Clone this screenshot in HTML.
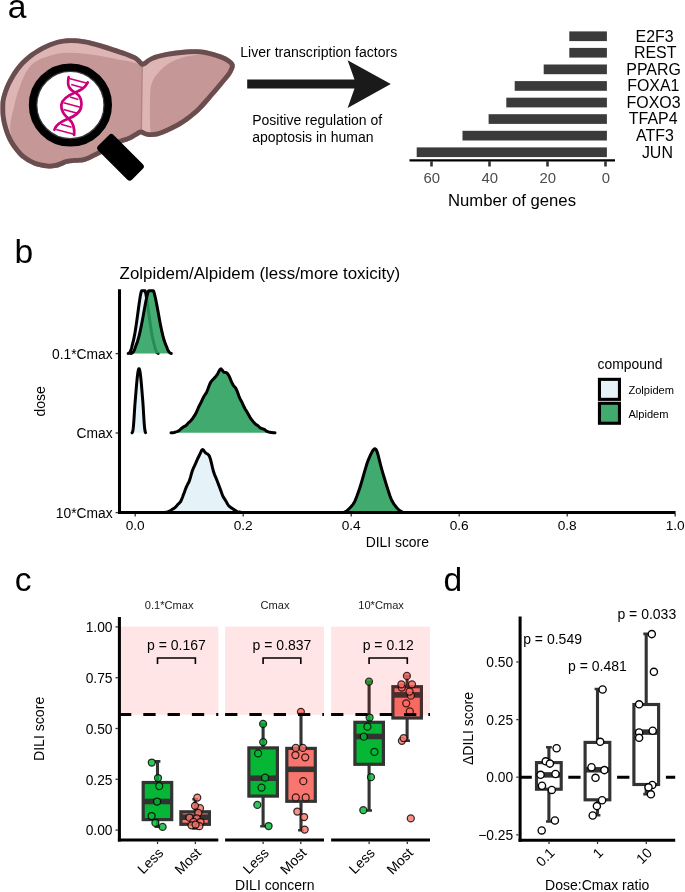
<!DOCTYPE html>
<html><head><meta charset="utf-8"><title>Figure</title>
<style>
html,body{margin:0;padding:0;background:#fff;}
body{width:685px;height:892px;overflow:hidden;}
svg{display:block;will-change:transform;}
text{font-family:"Liberation Sans",sans-serif;fill:#000;}
.t14{font-size:14px}.t13{font-size:13px}.t11{font-size:11px}
.pl{font-size:33.6px}
.ax{fill:#333}
</style></head><body>
<svg width="685" height="892" viewBox="0 0 685 892">
<rect width="685" height="892" fill="#fff"/>

<text class="pl" x="7.8" y="18.4">a</text>
<text class="pl" x="14.6" y="263.2">b</text>
<text class="pl" x="14.7" y="591.3">c</text>
<text class="pl" x="443.5" y="591.2">d</text>
<defs><clipPath id="clv"><path d="M142.8,61.8 C144.2,60.9 147.1,58.0 151.0,56.4 C154.9,54.8 160.7,53.2 166.5,52.1 C172.3,51.0 180.0,50.0 185.8,49.6 C191.6,49.2 196.1,49.0 201.3,49.6 C206.5,50.2 212.4,51.8 217.0,53.2 C221.6,54.6 225.9,56.3 228.8,58.2 C231.7,60.1 234.1,62.0 234.6,64.6 C235.1,67.2 234.0,70.0 231.9,73.6 C229.8,77.2 225.5,81.9 221.9,86.3 C218.3,90.7 214.2,95.4 210.4,99.7 C206.6,104.0 203.1,108.4 198.9,112.3 C194.7,116.2 190.2,119.7 185.3,122.9 C180.5,126.1 174.4,129.4 169.8,131.6 C165.2,133.8 161.8,135.3 158.0,136.2 C154.2,137.1 150.2,137.1 147.3,136.8 C144.4,136.5 141.9,134.6 140.8,134.2 C139.0,135.2 133.4,138.8 130.2,140.3 C127.0,141.8 124.4,142.1 121.4,143.4 C118.4,144.8 115.5,146.6 112.0,148.4 C108.5,150.2 104.7,152.4 100.6,154.5 C96.5,156.6 90.7,159.7 87.3,161.0 C83.9,162.3 82.1,162.3 80.0,162.6 C77.9,162.9 76.5,162.6 74.8,162.7 C73.1,162.8 71.5,163.0 70.0,163.2 C68.5,163.4 66.7,163.8 66.0,163.9 C65.5,164.2 64.8,164.8 63.1,165.4 C61.5,166.1 58.8,167.3 56.1,167.8 C53.4,168.3 50.4,168.7 46.7,168.3 C43.0,167.9 37.8,166.9 33.9,165.4 C30.0,163.9 26.5,161.9 23.4,159.6 C20.3,157.3 17.7,154.5 15.2,151.4 C12.7,148.3 10.1,144.6 8.2,140.9 C6.2,137.2 4.7,133.1 3.5,129.2 C2.3,125.3 1.4,121.0 0.9,117.5 C0.4,114.0 0.4,111.2 0.4,108.0 C0.5,104.8 0.2,102.2 1.2,98.0 C2.2,93.8 4.1,88.1 6.4,83.1 C8.8,78.1 11.8,72.6 15.3,68.0 C18.8,63.4 22.9,59.2 27.3,55.6 C31.7,52.0 36.9,48.7 41.8,46.1 C46.7,43.5 52.2,41.2 56.9,39.9 C61.6,38.6 65.5,38.3 70.2,38.2 C75.0,38.1 80.3,38.6 85.4,39.5 C90.5,40.4 95.8,41.9 100.6,43.3 C105.3,44.6 109.5,46.1 113.9,47.6 C118.3,49.1 123.2,50.6 127.0,52.0 C130.8,53.4 133.9,54.4 136.5,56.0 C139.1,57.6 141.8,60.8 142.8,61.8 Z"/></clipPath></defs>
<g clip-path="url(#clv)">
<rect x="0" y="30" width="240" height="150" fill="#deb5b5"/>
<path d="M-6,142 L11.1,133.9 C8.8,128 11.3,116 14.3,105.9 C16,98 17.3,92.5 19.8,86.9 C22,80 24.8,73.5 28.8,68 C33.5,62 40,58.8 47.4,56.6 C54,54.2 60,53 66.4,52.8 C73,52.6 79,53 85.4,53.7 C95,54.8 105,56.6 113.9,58.5 C120,59.8 125,60.6 130,61.6 C135,62.8 139,64.4 142.2,66.2 L142.2,190 L-6,190 Z" fill="#c59797"/>
<path d="M151.2,140 C150,128 149.6,116 149.9,105.9 C150,98 150,92 150.8,86.9 C152,81 154,77.5 157.4,73.7 C161,69.5 165.5,65.5 170.7,62.3 C175.5,59.8 180.5,58 185.9,56.6 C190,55.6 194,55 197.3,54.7 C205,53 215,51 225,50 L245,50 L245,140 Z" fill="#c59797"/>
<path d="M142.3,62 L141.2,134" stroke="#b08484" stroke-width="1.3" fill="none"/>
<path d="M142.8,61.8 C144.2,60.9 147.1,58.0 151.0,56.4 C154.9,54.8 160.7,53.2 166.5,52.1 C172.3,51.0 180.0,50.0 185.8,49.6 C191.6,49.2 196.1,49.0 201.3,49.6 C206.5,50.2 212.4,51.8 217.0,53.2 C221.6,54.6 225.9,56.3 228.8,58.2 C231.7,60.1 234.1,62.0 234.6,64.6 C235.1,67.2 234.0,70.0 231.9,73.6 C229.8,77.2 225.5,81.9 221.9,86.3 C218.3,90.7 214.2,95.4 210.4,99.7 C206.6,104.0 203.1,108.4 198.9,112.3 C194.7,116.2 190.2,119.7 185.3,122.9 C180.5,126.1 174.4,129.4 169.8,131.6 C165.2,133.8 161.8,135.3 158.0,136.2 C154.2,137.1 150.2,137.1 147.3,136.8 C144.4,136.5 141.9,134.6 140.8,134.2 C139.0,135.2 133.4,138.8 130.2,140.3 C127.0,141.8 124.4,142.1 121.4,143.4 C118.4,144.8 115.5,146.6 112.0,148.4 C108.5,150.2 104.7,152.4 100.6,154.5 C96.5,156.6 90.7,159.7 87.3,161.0 C83.9,162.3 82.1,162.3 80.0,162.6 C77.9,162.9 76.5,162.6 74.8,162.7 C73.1,162.8 71.5,163.0 70.0,163.2 C68.5,163.4 66.7,163.8 66.0,163.9 C65.5,164.2 64.8,164.8 63.1,165.4 C61.5,166.1 58.8,167.3 56.1,167.8 C53.4,168.3 50.4,168.7 46.7,168.3 C43.0,167.9 37.8,166.9 33.9,165.4 C30.0,163.9 26.5,161.9 23.4,159.6 C20.3,157.3 17.7,154.5 15.2,151.4 C12.7,148.3 10.1,144.6 8.2,140.9 C6.2,137.2 4.7,133.1 3.5,129.2 C2.3,125.3 1.4,121.0 0.9,117.5 C0.4,114.0 0.4,111.2 0.4,108.0 C0.5,104.8 0.2,102.2 1.2,98.0 C2.2,93.8 4.1,88.1 6.4,83.1 C8.8,78.1 11.8,72.6 15.3,68.0 C18.8,63.4 22.9,59.2 27.3,55.6 C31.7,52.0 36.9,48.7 41.8,46.1 C46.7,43.5 52.2,41.2 56.9,39.9 C61.6,38.6 65.5,38.3 70.2,38.2 C75.0,38.1 80.3,38.6 85.4,39.5 C90.5,40.4 95.8,41.9 100.6,43.3 C105.3,44.6 109.5,46.1 113.9,47.6 C118.3,49.1 123.2,50.6 127.0,52.0 C130.8,53.4 133.9,54.4 136.5,56.0 C139.1,57.6 141.8,60.8 142.8,61.8 Z" fill="none" stroke="#6a4e4f" stroke-width="9.6" stroke-linejoin="round"/>
</g>
<g transform="translate(120.3,157.1) rotate(45)"><rect x="-23.6" y="-10.9" width="47.8" height="21.8" rx="3.2" fill="#000"/></g>
<circle cx="70.4" cy="105" r="33.8" fill="#fff"/>
<circle cx="70.4" cy="105" r="37.6" fill="none" stroke="#000" stroke-width="8"/>
<circle cx="70.4" cy="105" r="33.6" fill="none" stroke="#3a3a3a" stroke-width="1.2"/>
<g fill="none" stroke="#cc0078" stroke-linecap="round">
<path d="M68.6,77.2 C67,86 69,89 75.1,92.6 C82,96 82,104 81,108 C79.5,113 75,116 68.5,118.6 C60,122 56,125 54.4,129.6" stroke-width="2.7"/>
<path d="M87.8,82.4 C85,88 81,90 75.1,92.6 C68,95.5 62,99 61.3,105 C61,111 64,115 68.5,118.6 C72,121.5 74.8,127 74.2,135" stroke-width="2.7"/>
<g stroke-width="1.6" stroke-linecap="butt">
<path d="M69.2,78.4 L87.2,83.2"/>
<path d="M71.2,84.6 L83.8,87.9"/>
<path d="M70,96.9 L78.4,99.4"/>
<path d="M63.6,102.8 L81.2,107.5"/>
<path d="M63.6,109.6 L78.2,113.5"/>
<path d="M61,124.3 L71.6,127.2"/>
<path d="M56.2,129.6 L74,134.3"/>
</g></g>
<text x="240.3" y="56.8" style="font-size:14.05px">Liver transcription factors</text>
<text x="252.2" y="124.8" style="font-size:14px">Positive regulation of</text>
<text x="252.2" y="141.8" style="font-size:14px">apoptosis in human</text>
<path d="M247.2,79.6 L354.5,79.6 L347.6,60.2 L390.8,84 L347.6,107.9 L354.5,88.4 L247.2,88.4 Z" fill="#1a1a1a"/>
<rect x="569.3" y="31.4" width="37.6" height="9.7" fill="#3b3b3b"/>
<text transform="translate(654.6,41.6) scale(1.01,1)" text-anchor="middle" style="font-size:15.8px">E2F3</text>
<rect x="569.3" y="47.9" width="37.6" height="9.7" fill="#3b3b3b"/>
<text transform="translate(655.2,58.2) scale(1.01,1)" text-anchor="middle" style="font-size:15.8px">REST</text>
<rect x="543.7" y="64.5" width="63.2" height="9.7" fill="#3b3b3b"/>
<text transform="translate(653.6,74.7) scale(1.01,1)" text-anchor="middle" style="font-size:15.8px">PPARG</text>
<rect x="514.7" y="81.1" width="92.2" height="9.7" fill="#3b3b3b"/>
<text transform="translate(653.3,91.2) scale(1.01,1)" text-anchor="middle" style="font-size:15.8px">FOXA1</text>
<rect x="506.3" y="97.7" width="100.6" height="9.7" fill="#3b3b3b"/>
<text transform="translate(653.6,107.8) scale(1.01,1)" text-anchor="middle" style="font-size:15.8px">FOXO3</text>
<rect x="488.6" y="114.2" width="118.3" height="9.7" fill="#3b3b3b"/>
<text transform="translate(653.2,124.3) scale(1.01,1)" text-anchor="middle" style="font-size:15.8px">TFAP4</text>
<rect x="462.5" y="130.8" width="144.4" height="9.7" fill="#3b3b3b"/>
<text transform="translate(655.0,140.9) scale(1.01,1)" text-anchor="middle" style="font-size:15.8px">ATF3</text>
<rect x="416.7" y="147.4" width="190.2" height="9.7" fill="#3b3b3b"/>
<text transform="translate(657.4,157.5) scale(1.01,1)" text-anchor="middle" style="font-size:15.8px">JUN</text>
<path d="M409.5,160.3 L615,160.3" stroke="#000" stroke-width="2.2"/>
<path d="M605.5,161.2 L605.5,166.5" stroke="#333" stroke-width="2.6"/>
<text x="605.8" y="183.2" text-anchor="middle" style="font-size:14.9px;fill:#4d4d4d">0</text>
<path d="M547.5,161.2 L547.5,166.5" stroke="#333" stroke-width="2.6"/>
<text x="547.8" y="183.2" text-anchor="middle" style="font-size:14.9px;fill:#4d4d4d">20</text>
<path d="M489.5,161.2 L489.5,166.5" stroke="#333" stroke-width="2.6"/>
<text x="489.8" y="183.2" text-anchor="middle" style="font-size:14.9px;fill:#4d4d4d">40</text>
<path d="M431.5,161.2 L431.5,166.5" stroke="#333" stroke-width="2.6"/>
<text x="431.8" y="183.2" text-anchor="middle" style="font-size:14.9px;fill:#4d4d4d">60</text>
<text x="512" y="206.2" text-anchor="middle" style="font-size:16.7px">Number of genes</text>
<text x="119.6" y="278.6" style="font-size:16.9px">Zolpidem/Alpidem (less/more toxicity)</text>
<path d="M128.2,353.4 L128.7,353.3 L129.2,353.1 L129.7,352.6 L130.2,351.9 L130.7,350.7 L131.2,349.2 L131.7,347.4 L132.2,345.3 L132.7,343.4 L133.2,341.5 L133.7,339.3 L134.2,336.9 L134.7,334.3 L135.2,331.4 L135.7,328.2 L136.2,324.9 L136.7,321.5 L137.2,317.9 L137.7,314.2 L138.2,310.5 L138.7,306.8 L139.2,303.3 L139.7,299.9 L140.2,296.8 L140.7,294.1 L141.2,291.7 L141.7,290.7 L142.2,290.7 L142.7,290.7 L143.2,290.7 L143.7,290.7 L144.2,290.7 L144.7,290.7 L145.2,290.8 L145.7,293.0 L146.2,295.7 L146.7,298.7 L147.2,301.9 L147.7,305.4 L148.2,309.0 L148.7,312.7 L149.2,316.4 L149.7,320.0 L150.2,323.6 L150.7,326.9 L151.2,330.1 L151.7,333.1 L152.2,335.9 L152.7,338.4 L153.2,340.6 L153.7,342.6 L154.2,344.4 L154.7,346.3 L155.2,348.2 L155.7,349.8 L156.2,351.2 L156.7,352.2 L157.2,352.8 L157.7,353.2 L158.2,353.4 L158.2,353.4 L128.2,353.4 Z" fill="#e5f3f8"/>
<path d="M128.2,353.4 L128.7,353.3 L129.2,353.1 L129.7,352.6 L130.2,351.9 L130.7,350.7 L131.2,349.2 L131.7,347.4 L132.2,345.3 L132.7,343.4 L133.2,341.5 L133.7,339.3 L134.2,336.9 L134.7,334.3 L135.2,331.4 L135.7,328.2 L136.2,324.9 L136.7,321.5 L137.2,317.9 L137.7,314.2 L138.2,310.5 L138.7,306.8 L139.2,303.3 L139.7,299.9 L140.2,296.8 L140.7,294.1 L141.2,291.7 L141.7,290.7 L142.2,290.7 L142.7,290.7 L143.2,290.7 L143.7,290.7 L144.2,290.7 L144.7,290.7 L145.2,290.8 L145.7,293.0 L146.2,295.7 L146.7,298.7 L147.2,301.9 L147.7,305.4 L148.2,309.0 L148.7,312.7 L149.2,316.4 L149.7,320.0 L150.2,323.6 L150.7,326.9 L151.2,330.1 L151.7,333.1 L152.2,335.9 L152.7,338.4 L153.2,340.6 L153.7,342.6 L154.2,344.4 L154.7,346.3 L155.2,348.2 L155.7,349.8 L156.2,351.2 L156.7,352.2 L157.2,352.8 L157.7,353.2 L158.2,353.4" fill="none" stroke="#000" stroke-width="3.0" stroke-linejoin="round" stroke-linecap="round"/>
<path d="M130.8,353.4 L131.3,353.4 L131.8,353.2 L132.3,352.9 L132.8,352.5 L133.3,351.9 L133.8,351.0 L134.3,350.0 L134.8,348.8 L135.3,347.4 L135.8,346.0 L136.3,344.6 L136.8,343.4 L137.3,342.0 L137.8,340.4 L138.3,338.8 L138.8,336.9 L139.3,335.0 L139.8,332.9 L140.3,330.7 L140.8,328.3 L141.3,325.9 L141.8,323.3 L142.3,320.7 L142.8,318.0 L143.3,315.3 L143.8,312.5 L144.3,309.8 L144.8,307.0 L145.3,304.4 L145.8,301.8 L146.3,299.3 L146.8,297.0 L147.3,294.9 L147.8,293.0 L148.3,291.3 L148.8,290.7 L149.3,290.7 L149.8,290.7 L150.3,290.7 L150.8,290.7 L151.3,290.7 L151.8,290.7 L152.3,290.7 L152.8,290.7 L153.3,290.7 L153.8,291.6 L154.3,293.4 L154.8,295.3 L155.3,297.5 L155.8,299.8 L156.3,302.3 L156.8,304.9 L157.3,307.6 L157.8,310.3 L158.3,313.1 L158.8,315.8 L159.3,318.6 L159.8,321.2 L160.3,323.9 L160.8,326.4 L161.3,328.8 L161.8,331.1 L162.3,333.3 L162.8,335.4 L163.3,337.3 L163.8,339.1 L164.3,340.8 L164.8,342.3 L165.3,343.6 L165.8,344.9 L166.3,346.0 L166.8,347.3 L167.3,348.6 L167.8,349.8 L168.3,350.8 L168.8,351.7 L169.3,352.3 L169.8,352.8 L170.3,353.1 L170.8,353.3 L171.3,353.4 L171.3,353.4 L130.8,353.4 Z" fill="rgba(44,162,95,0.88)"/>
<path d="M130.8,353.4 L131.3,353.4 L131.8,353.2 L132.3,352.9 L132.8,352.5 L133.3,351.9 L133.8,351.0 L134.3,350.0 L134.8,348.8 L135.3,347.4 L135.8,346.0 L136.3,344.6 L136.8,343.4 L137.3,342.0 L137.8,340.4 L138.3,338.8 L138.8,336.9 L139.3,335.0 L139.8,332.9 L140.3,330.7 L140.8,328.3 L141.3,325.9 L141.8,323.3 L142.3,320.7 L142.8,318.0 L143.3,315.3 L143.8,312.5 L144.3,309.8 L144.8,307.0 L145.3,304.4 L145.8,301.8 L146.3,299.3 L146.8,297.0 L147.3,294.9 L147.8,293.0 L148.3,291.3 L148.8,290.7 L149.3,290.7 L149.8,290.7 L150.3,290.7 L150.8,290.7 L151.3,290.7 L151.8,290.7 L152.3,290.7 L152.8,290.7 L153.3,290.7 L153.8,291.6 L154.3,293.4 L154.8,295.3 L155.3,297.5 L155.8,299.8 L156.3,302.3 L156.8,304.9 L157.3,307.6 L157.8,310.3 L158.3,313.1 L158.8,315.8 L159.3,318.6 L159.8,321.2 L160.3,323.9 L160.8,326.4 L161.3,328.8 L161.8,331.1 L162.3,333.3 L162.8,335.4 L163.3,337.3 L163.8,339.1 L164.3,340.8 L164.8,342.3 L165.3,343.6 L165.8,344.9 L166.3,346.0 L166.8,347.3 L167.3,348.6 L167.8,349.8 L168.3,350.8 L168.8,351.7 L169.3,352.3 L169.8,352.8 L170.3,353.1 L170.8,353.3 L171.3,353.4" fill="none" stroke="#000" stroke-width="3.0" stroke-linejoin="round" stroke-linecap="round"/>
<path d="M132.0,432.8 L132.4,432.4 L132.8,431.1 L133.2,428.4 L133.6,424.3 L134.0,418.8 L134.4,412.3 L134.8,406.0 L135.2,401.1 L135.6,396.3 L136.0,391.4 L136.4,386.6 L136.8,382.1 L137.2,378.0 L137.6,374.5 L138.0,371.7 L138.4,369.7 L138.8,368.7 L139.2,368.7 L139.6,369.7 L140.0,371.7 L140.4,374.5 L140.8,378.0 L141.2,382.1 L141.6,386.6 L142.0,391.4 L142.4,396.3 L142.8,401.1 L143.2,407.0 L143.6,414.0 L144.0,420.5 L144.4,425.8 L144.8,429.6 L145.2,431.8 L145.6,432.7 L145.6,432.8 L132.0,432.8 Z" fill="#e5f3f8"/>
<path d="M132.0,432.8 L132.4,432.4 L132.8,431.1 L133.2,428.4 L133.6,424.3 L134.0,418.8 L134.4,412.3 L134.8,406.0 L135.2,401.1 L135.6,396.3 L136.0,391.4 L136.4,386.6 L136.8,382.1 L137.2,378.0 L137.6,374.5 L138.0,371.7 L138.4,369.7 L138.8,368.7 L139.2,368.7 L139.6,369.7 L140.0,371.7 L140.4,374.5 L140.8,378.0 L141.2,382.1 L141.6,386.6 L142.0,391.4 L142.4,396.3 L142.8,401.1 L143.2,407.0 L143.6,414.0 L144.0,420.5 L144.4,425.8 L144.8,429.6 L145.2,431.8 L145.6,432.7" fill="none" stroke="#000" stroke-width="3.0" stroke-linejoin="round" stroke-linecap="round"/>
<path d="M171.0,432.8 L172.0,432.8 L173.0,432.7 L174.0,432.5 L175.0,432.2 L176.0,431.9 L177.0,431.6 L178.0,431.2 L179.0,430.6 L180.0,429.8 L181.0,428.8 L182.0,427.9 L183.0,427.2 L184.0,426.7 L185.0,426.2 L186.0,425.5 L187.0,424.4 L188.0,423.3 L189.0,422.3 L190.0,421.5 L191.0,420.5 L192.0,419.3 L193.0,417.9 L194.0,416.4 L195.0,414.9 L196.0,413.1 L197.0,410.8 L198.0,408.5 L199.0,406.3 L200.0,404.4 L201.0,402.5 L202.0,400.4 L203.0,398.2 L204.0,396.3 L205.0,394.7 L206.0,393.3 L207.0,391.3 L208.0,388.8 L209.0,386.0 L210.0,383.6 L211.0,381.8 L212.0,380.6 L213.0,379.5 L214.0,378.4 L215.0,377.4 L216.0,376.2 L217.0,374.9 L218.0,373.2 L219.0,371.2 L220.0,369.5 L221.0,368.9 L222.0,369.8 L223.0,371.2 L224.0,372.2 L225.0,372.4 L226.0,372.5 L227.0,373.1 L228.0,374.2 L229.0,375.9 L230.0,378.1 L231.0,380.6 L232.0,382.9 L233.0,384.8 L234.0,386.2 L235.0,387.2 L236.0,388.6 L237.0,390.8 L238.0,393.5 L239.0,396.3 L240.0,398.6 L241.0,400.5 L242.0,402.4 L243.0,404.6 L244.0,406.8 L245.0,408.7 L246.0,410.4 L247.0,411.9 L248.0,413.7 L249.0,415.5 L250.0,417.3 L251.0,418.8 L252.0,420.1 L253.0,421.4 L254.0,422.6 L255.0,423.7 L256.0,424.5 L257.0,425.1 L258.0,425.8 L259.0,426.8 L260.0,427.7 L261.0,428.3 L262.0,428.6 L263.0,428.9 L264.0,429.3 L265.0,429.9 L266.0,430.7 L267.0,431.4 L268.0,431.8 L269.0,432.1 L270.0,432.3 L271.0,432.5 L272.0,432.6 L273.0,432.7 L274.0,432.8 L275.0,432.8 L275.0,432.8 L171.0,432.8 Z" fill="#41aa6e"/>
<path d="M171.0,432.8 L172.0,432.8 L173.0,432.7 L174.0,432.5 L175.0,432.2 L176.0,431.9 L177.0,431.6 L178.0,431.2 L179.0,430.6 L180.0,429.8 L181.0,428.8 L182.0,427.9 L183.0,427.2 L184.0,426.7 L185.0,426.2 L186.0,425.5 L187.0,424.4 L188.0,423.3 L189.0,422.3 L190.0,421.5 L191.0,420.5 L192.0,419.3 L193.0,417.9 L194.0,416.4 L195.0,414.9 L196.0,413.1 L197.0,410.8 L198.0,408.5 L199.0,406.3 L200.0,404.4 L201.0,402.5 L202.0,400.4 L203.0,398.2 L204.0,396.3 L205.0,394.7 L206.0,393.3 L207.0,391.3 L208.0,388.8 L209.0,386.0 L210.0,383.6 L211.0,381.8 L212.0,380.6 L213.0,379.5 L214.0,378.4 L215.0,377.4 L216.0,376.2 L217.0,374.9 L218.0,373.2 L219.0,371.2 L220.0,369.5 L221.0,368.9 L222.0,369.8 L223.0,371.2 L224.0,372.2 L225.0,372.4 L226.0,372.5 L227.0,373.1 L228.0,374.2 L229.0,375.9 L230.0,378.1 L231.0,380.6 L232.0,382.9 L233.0,384.8 L234.0,386.2 L235.0,387.2 L236.0,388.6 L237.0,390.8 L238.0,393.5 L239.0,396.3 L240.0,398.6 L241.0,400.5 L242.0,402.4 L243.0,404.6 L244.0,406.8 L245.0,408.7 L246.0,410.4 L247.0,411.9 L248.0,413.7 L249.0,415.5 L250.0,417.3 L251.0,418.8 L252.0,420.1 L253.0,421.4 L254.0,422.6 L255.0,423.7 L256.0,424.5 L257.0,425.1 L258.0,425.8 L259.0,426.8 L260.0,427.7 L261.0,428.3 L262.0,428.6 L263.0,428.9 L264.0,429.3 L265.0,429.9 L266.0,430.7 L267.0,431.4 L268.0,431.8 L269.0,432.1 L270.0,432.3 L271.0,432.5 L272.0,432.6 L273.0,432.7 L274.0,432.8 L275.0,432.8" fill="none" stroke="#000" stroke-width="3.0" stroke-linejoin="round" stroke-linecap="round"/>
<path d="M163.5,512.4 L164.5,512.4 L165.5,512.3 L166.5,512.2 L167.5,512.0 L168.5,511.6 L169.5,511.2 L170.5,510.6 L171.5,509.9 L172.5,509.1 L173.5,508.6 L174.5,508.0 L175.5,507.2 L176.5,506.1 L177.5,504.8 L178.5,503.8 L179.5,502.9 L180.5,501.7 L181.5,499.8 L182.5,497.3 L183.5,494.6 L184.5,491.9 L185.5,489.1 L186.5,486.7 L187.5,484.6 L188.5,482.8 L189.5,480.4 L190.5,477.2 L191.5,473.5 L192.5,470.3 L193.5,467.9 L194.5,465.9 L195.5,463.7 L196.5,461.3 L197.5,459.0 L198.5,457.0 L199.5,455.0 L200.5,452.8 L201.5,450.6 L202.5,449.5 L203.5,450.1 L204.5,451.6 L205.5,452.8 L206.5,453.5 L207.5,454.0 L208.5,454.8 L209.5,456.4 L210.5,459.3 L211.5,463.3 L212.5,467.7 L213.5,471.6 L214.5,474.5 L215.5,476.9 L216.5,479.2 L217.5,481.7 L218.5,484.4 L219.5,487.0 L220.5,489.7 L221.5,492.6 L222.5,495.3 L223.5,497.4 L224.5,498.9 L225.5,500.4 L226.5,502.1 L227.5,504.0 L228.5,505.5 L229.5,506.5 L230.5,507.2 L231.5,507.9 L232.5,508.6 L233.5,509.2 L234.5,509.9 L235.5,510.6 L236.5,511.3 L237.5,511.7 L238.5,511.9 L239.5,512.0 L240.5,512.2 L241.5,512.4 L242.5,512.4 L242.5,512.4 L163.5,512.4 Z" fill="#e5f3f8"/>
<path d="M163.5,512.4 L164.5,512.4 L165.5,512.3 L166.5,512.2 L167.5,512.0 L168.5,511.6 L169.5,511.2 L170.5,510.6 L171.5,509.9 L172.5,509.1 L173.5,508.6 L174.5,508.0 L175.5,507.2 L176.5,506.1 L177.5,504.8 L178.5,503.8 L179.5,502.9 L180.5,501.7 L181.5,499.8 L182.5,497.3 L183.5,494.6 L184.5,491.9 L185.5,489.1 L186.5,486.7 L187.5,484.6 L188.5,482.8 L189.5,480.4 L190.5,477.2 L191.5,473.5 L192.5,470.3 L193.5,467.9 L194.5,465.9 L195.5,463.7 L196.5,461.3 L197.5,459.0 L198.5,457.0 L199.5,455.0 L200.5,452.8 L201.5,450.6 L202.5,449.5 L203.5,450.1 L204.5,451.6 L205.5,452.8 L206.5,453.5 L207.5,454.0 L208.5,454.8 L209.5,456.4 L210.5,459.3 L211.5,463.3 L212.5,467.7 L213.5,471.6 L214.5,474.5 L215.5,476.9 L216.5,479.2 L217.5,481.7 L218.5,484.4 L219.5,487.0 L220.5,489.7 L221.5,492.6 L222.5,495.3 L223.5,497.4 L224.5,498.9 L225.5,500.4 L226.5,502.1 L227.5,504.0 L228.5,505.5 L229.5,506.5 L230.5,507.2 L231.5,507.9 L232.5,508.6 L233.5,509.2 L234.5,509.9 L235.5,510.6 L236.5,511.3 L237.5,511.7 L238.5,511.9 L239.5,512.0 L240.5,512.2 L241.5,512.4 L242.5,512.4" fill="none" stroke="#000" stroke-width="3.0" stroke-linejoin="round" stroke-linecap="round"/>
<path d="M342.0,512.4 L343.0,512.4 L344.0,512.2 L345.0,511.9 L346.0,511.4 L347.0,510.7 L348.0,509.7 L349.0,508.7 L350.0,507.7 L351.0,506.7 L352.0,505.6 L353.0,504.4 L354.0,502.8 L355.0,500.8 L356.0,498.4 L357.0,495.8 L358.0,493.0 L359.0,490.2 L360.0,487.2 L361.0,484.0 L362.0,480.6 L363.0,477.2 L364.0,473.7 L365.0,470.2 L366.0,466.8 L367.0,463.5 L368.0,460.7 L369.0,458.3 L370.0,456.0 L371.0,453.9 L372.0,452.0 L373.0,450.3 L374.0,449.1 L375.0,448.7 L376.0,449.4 L377.0,451.5 L378.0,454.7 L379.0,458.6 L380.0,462.7 L381.0,466.6 L382.0,470.2 L383.0,473.6 L384.0,477.0 L385.0,480.3 L386.0,483.6 L387.0,486.8 L388.0,489.9 L389.0,493.0 L390.0,496.0 L391.0,498.6 L392.0,500.8 L393.0,502.6 L394.0,504.1 L395.0,505.5 L396.0,506.8 L397.0,508.0 L398.0,509.0 L399.0,509.9 L400.0,510.7 L401.0,511.4 L402.0,511.9 L403.0,512.2 L404.0,512.4 L405.0,512.4 L405.0,512.4 L342.0,512.4 Z" fill="#41aa6e"/>
<path d="M342.0,512.4 L343.0,512.4 L344.0,512.2 L345.0,511.9 L346.0,511.4 L347.0,510.7 L348.0,509.7 L349.0,508.7 L350.0,507.7 L351.0,506.7 L352.0,505.6 L353.0,504.4 L354.0,502.8 L355.0,500.8 L356.0,498.4 L357.0,495.8 L358.0,493.0 L359.0,490.2 L360.0,487.2 L361.0,484.0 L362.0,480.6 L363.0,477.2 L364.0,473.7 L365.0,470.2 L366.0,466.8 L367.0,463.5 L368.0,460.7 L369.0,458.3 L370.0,456.0 L371.0,453.9 L372.0,452.0 L373.0,450.3 L374.0,449.1 L375.0,448.7 L376.0,449.4 L377.0,451.5 L378.0,454.7 L379.0,458.6 L380.0,462.7 L381.0,466.6 L382.0,470.2 L383.0,473.6 L384.0,477.0 L385.0,480.3 L386.0,483.6 L387.0,486.8 L388.0,489.9 L389.0,493.0 L390.0,496.0 L391.0,498.6 L392.0,500.8 L393.0,502.6 L394.0,504.1 L395.0,505.5 L396.0,506.8 L397.0,508.0 L398.0,509.0 L399.0,509.9 L400.0,510.7 L401.0,511.4 L402.0,511.9 L403.0,512.2 L404.0,512.4 L405.0,512.4" fill="none" stroke="#000" stroke-width="3.0" stroke-linejoin="round" stroke-linecap="round"/>
<path d="M119.5,289.3 L119.5,514.1" stroke="#000" stroke-width="3.05"/>
<path d="M118,512.55 L675.6,512.55" stroke="#000" stroke-width="3.05"/>
<path d="M115.6,353.6 L118.2,353.6" stroke="#333" stroke-width="1.3"/>
<text x="112.6" y="358.7" text-anchor="end" style="font-size:13.8px">0.1*Cmax</text>
<path d="M115.6,433.0 L118.2,433.0" stroke="#333" stroke-width="1.3"/>
<text x="112.6" y="438.1" text-anchor="end" style="font-size:13.8px">Cmax</text>
<path d="M115.6,512.6 L118.2,512.6" stroke="#333" stroke-width="1.3"/>
<text x="112.6" y="517.7" text-anchor="end" style="font-size:13.8px">10*Cmax</text>
<path d="M135.2,514 L135.2,516.4" stroke="#333" stroke-width="1.3"/>
<text x="135.2" y="529.8" text-anchor="middle" style="font-size:13.7px">0.0</text>
<path d="M243.2,514 L243.2,516.4" stroke="#333" stroke-width="1.3"/>
<text x="243.2" y="529.8" text-anchor="middle" style="font-size:13.7px">0.2</text>
<path d="M351.2,514 L351.2,516.4" stroke="#333" stroke-width="1.3"/>
<text x="351.2" y="529.8" text-anchor="middle" style="font-size:13.7px">0.4</text>
<path d="M459.2,514 L459.2,516.4" stroke="#333" stroke-width="1.3"/>
<text x="459.2" y="529.8" text-anchor="middle" style="font-size:13.7px">0.6</text>
<path d="M567.2,514 L567.2,516.4" stroke="#333" stroke-width="1.3"/>
<text x="567.2" y="529.8" text-anchor="middle" style="font-size:13.7px">0.8</text>
<path d="M675.2,514 L675.2,516.4" stroke="#333" stroke-width="1.3"/>
<text x="675.2" y="529.8" text-anchor="middle" style="font-size:13.7px">1.0</text>
<text x="397.3" y="546.7" text-anchor="middle" style="font-size:13.9px">DILI score</text>
<text transform="translate(44.6,401.3) rotate(-90)" text-anchor="middle" style="font-size:14px">dose</text>
<text x="597.6" y="368.6" style="font-size:13.9px">compound</text>
<rect x="599.45" y="379.35" width="20" height="20" fill="#e5f3f8" stroke="#000" stroke-width="3.1"/>
<rect x="599.45" y="403.25" width="20" height="20" fill="#41aa6e" stroke="#000" stroke-width="3.1"/>
<text x="628.4" y="393.7" style="font-size:11.1px">Zolpidem</text>
<text x="628.4" y="417.7" style="font-size:11.1px">Alpidem</text>
<path d="M157.5,761.2 L157.5,782.5 M157.5,819.6 L157.5,827.0" stroke="#333" stroke-width="3.1"/>
<path d="M154.6,761.4 L160.4,761.4 M154.6,826.8 L160.4,826.8" stroke="#333" stroke-width="2.6"/>
<rect x="143.2" y="782.5" width="28.5" height="37.1" fill="#05b734" stroke="#333" stroke-width="3.2"/>
<path d="M143.2,801.5 L171.8,801.5" stroke="#333" stroke-width="5.6"/>
<path d="M195.2,799.0 L195.2,811.8 M195.2,824.3 L195.2,828.6" stroke="#333" stroke-width="3.1"/>
<path d="M192.3,799.2 L198.1,799.2 M192.3,828.4 L198.1,828.4" stroke="#333" stroke-width="2.6"/>
<rect x="180.9" y="811.8" width="28.5" height="12.5" fill="#f8766d" stroke="#333" stroke-width="3.2"/>
<path d="M180.9,817.2 L209.4,817.2" stroke="#333" stroke-width="5.6"/>
<path d="M263.1,723.9 L263.1,747.9 M263.1,796.1 L263.1,826.4" stroke="#333" stroke-width="3.1"/>
<path d="M260.2,724.1 L266.0,724.1 M260.2,826.2 L266.0,826.2" stroke="#333" stroke-width="2.6"/>
<rect x="248.9" y="747.9" width="28.5" height="48.2" fill="#05b734" stroke="#333" stroke-width="3.2"/>
<path d="M248.9,778.2 L277.4,778.2" stroke="#333" stroke-width="5.6"/>
<path d="M301.0,713.4 L301.0,748.4 M301.0,801.3 L301.0,830.4" stroke="#333" stroke-width="3.1"/>
<path d="M298.1,713.6 L303.9,713.6 M298.1,830.2 L303.9,830.2" stroke="#333" stroke-width="2.6"/>
<rect x="286.8" y="748.4" width="28.5" height="52.9" fill="#f8766d" stroke="#333" stroke-width="3.2"/>
<path d="M286.8,769.3 L315.2,769.3" stroke="#333" stroke-width="5.6"/>
<path d="M369.1,681.7 L369.1,722.3 M369.1,764.3 L369.1,810.7" stroke="#333" stroke-width="3.1"/>
<path d="M366.2,681.9 L372.0,681.9 M366.2,810.5 L372.0,810.5" stroke="#333" stroke-width="2.6"/>
<rect x="354.9" y="722.3" width="28.5" height="42.0" fill="#05b734" stroke="#333" stroke-width="3.2"/>
<path d="M354.9,736.5 L383.4,736.5" stroke="#333" stroke-width="5.6"/>
<path d="M407.1,675.8 L407.1,686.7 M407.1,718.0 L407.1,740.9" stroke="#333" stroke-width="3.1"/>
<path d="M404.2,676.0 L410.0,676.0 M404.2,740.7 L410.0,740.7" stroke="#333" stroke-width="2.6"/>
<rect x="392.9" y="686.7" width="28.5" height="31.3" fill="#f8766d" stroke="#333" stroke-width="3.2"/>
<path d="M392.9,694.9 L421.4,694.9" stroke="#333" stroke-width="5.6"/>
<circle cx="151.8" cy="762.5" r="3.5" fill="#05b734" fill-opacity="0.82" stroke="#000" stroke-opacity="0.8" stroke-width="1.25"/>
<circle cx="158.0" cy="778.0" r="3.5" fill="#05b734" fill-opacity="0.82" stroke="#000" stroke-opacity="0.8" stroke-width="1.25"/>
<circle cx="159.2" cy="786.1" r="3.5" fill="#05b734" fill-opacity="0.82" stroke="#000" stroke-opacity="0.8" stroke-width="1.25"/>
<circle cx="157.1" cy="801.5" r="3.5" fill="#05b734" fill-opacity="0.82" stroke="#000" stroke-opacity="0.8" stroke-width="1.25"/>
<circle cx="151.6" cy="816.0" r="3.5" fill="#05b734" fill-opacity="0.82" stroke="#000" stroke-opacity="0.8" stroke-width="1.25"/>
<circle cx="155.4" cy="822.9" r="3.5" fill="#05b734" fill-opacity="0.82" stroke="#000" stroke-opacity="0.8" stroke-width="1.25"/>
<circle cx="162.6" cy="826.9" r="3.5" fill="#05b734" fill-opacity="0.82" stroke="#000" stroke-opacity="0.8" stroke-width="1.25"/>
<circle cx="200.0" cy="808.2" r="3.5" fill="#f8766d" fill-opacity="0.82" stroke="#000" stroke-opacity="0.8" stroke-width="1.25"/>
<circle cx="195.0" cy="805.8" r="3.5" fill="#f8766d" fill-opacity="0.82" stroke="#000" stroke-opacity="0.8" stroke-width="1.25"/>
<circle cx="197.3" cy="797.6" r="3.5" fill="#f8766d" fill-opacity="0.82" stroke="#000" stroke-opacity="0.8" stroke-width="1.25"/>
<circle cx="198.3" cy="812.8" r="3.5" fill="#f8766d" fill-opacity="0.82" stroke="#000" stroke-opacity="0.8" stroke-width="1.25"/>
<circle cx="189.5" cy="817.7" r="3.5" fill="#f8766d" fill-opacity="0.82" stroke="#000" stroke-opacity="0.8" stroke-width="1.25"/>
<circle cx="196.8" cy="818.3" r="3.5" fill="#f8766d" fill-opacity="0.82" stroke="#000" stroke-opacity="0.8" stroke-width="1.25"/>
<circle cx="193.5" cy="821.8" r="3.5" fill="#f8766d" fill-opacity="0.82" stroke="#000" stroke-opacity="0.8" stroke-width="1.25"/>
<circle cx="200.5" cy="822.0" r="3.5" fill="#f8766d" fill-opacity="0.82" stroke="#000" stroke-opacity="0.8" stroke-width="1.25"/>
<circle cx="191.5" cy="825.3" r="3.5" fill="#f8766d" fill-opacity="0.82" stroke="#000" stroke-opacity="0.8" stroke-width="1.25"/>
<circle cx="199.4" cy="826.2" r="3.5" fill="#f8766d" fill-opacity="0.82" stroke="#000" stroke-opacity="0.8" stroke-width="1.25"/>
<circle cx="195.6" cy="824.5" r="3.5" fill="#f8766d" fill-opacity="0.82" stroke="#000" stroke-opacity="0.8" stroke-width="1.25"/>
<circle cx="263.1" cy="723.9" r="3.5" fill="#05b734" fill-opacity="0.82" stroke="#000" stroke-opacity="0.8" stroke-width="1.25"/>
<circle cx="263.2" cy="742.1" r="3.5" fill="#05b734" fill-opacity="0.82" stroke="#000" stroke-opacity="0.8" stroke-width="1.25"/>
<circle cx="258.1" cy="753.4" r="3.5" fill="#05b734" fill-opacity="0.82" stroke="#000" stroke-opacity="0.8" stroke-width="1.25"/>
<circle cx="265.1" cy="777.7" r="3.5" fill="#05b734" fill-opacity="0.82" stroke="#000" stroke-opacity="0.8" stroke-width="1.25"/>
<circle cx="261.5" cy="787.6" r="3.5" fill="#05b734" fill-opacity="0.82" stroke="#000" stroke-opacity="0.8" stroke-width="1.25"/>
<circle cx="257.3" cy="804.9" r="3.5" fill="#05b734" fill-opacity="0.82" stroke="#000" stroke-opacity="0.8" stroke-width="1.25"/>
<circle cx="268.6" cy="826.0" r="3.5" fill="#05b734" fill-opacity="0.82" stroke="#000" stroke-opacity="0.8" stroke-width="1.25"/>
<circle cx="300.9" cy="711.8" r="3.5" fill="#f8766d" fill-opacity="0.82" stroke="#000" stroke-opacity="0.8" stroke-width="1.25"/>
<circle cx="295.8" cy="747.9" r="3.5" fill="#f8766d" fill-opacity="0.82" stroke="#000" stroke-opacity="0.8" stroke-width="1.25"/>
<circle cx="302.8" cy="747.9" r="3.5" fill="#f8766d" fill-opacity="0.82" stroke="#000" stroke-opacity="0.8" stroke-width="1.25"/>
<circle cx="295.4" cy="755.0" r="3.5" fill="#f8766d" fill-opacity="0.82" stroke="#000" stroke-opacity="0.8" stroke-width="1.25"/>
<circle cx="305.2" cy="757.3" r="3.5" fill="#f8766d" fill-opacity="0.82" stroke="#000" stroke-opacity="0.8" stroke-width="1.25"/>
<circle cx="303.3" cy="781.2" r="3.5" fill="#f8766d" fill-opacity="0.82" stroke="#000" stroke-opacity="0.8" stroke-width="1.25"/>
<circle cx="295.8" cy="797.4" r="3.5" fill="#f8766d" fill-opacity="0.82" stroke="#000" stroke-opacity="0.8" stroke-width="1.25"/>
<circle cx="305.7" cy="797.4" r="3.5" fill="#f8766d" fill-opacity="0.82" stroke="#000" stroke-opacity="0.8" stroke-width="1.25"/>
<circle cx="297.3" cy="811.5" r="3.5" fill="#f8766d" fill-opacity="0.82" stroke="#000" stroke-opacity="0.8" stroke-width="1.25"/>
<circle cx="304.1" cy="817.0" r="3.5" fill="#f8766d" fill-opacity="0.82" stroke="#000" stroke-opacity="0.8" stroke-width="1.25"/>
<circle cx="304.7" cy="829.6" r="3.5" fill="#f8766d" fill-opacity="0.82" stroke="#000" stroke-opacity="0.8" stroke-width="1.25"/>
<circle cx="369.0" cy="681.7" r="3.5" fill="#05b734" fill-opacity="0.82" stroke="#000" stroke-opacity="0.8" stroke-width="1.25"/>
<circle cx="369.6" cy="717.5" r="3.5" fill="#05b734" fill-opacity="0.82" stroke="#000" stroke-opacity="0.8" stroke-width="1.25"/>
<circle cx="367.4" cy="726.7" r="3.5" fill="#05b734" fill-opacity="0.82" stroke="#000" stroke-opacity="0.8" stroke-width="1.25"/>
<circle cx="363.8" cy="736.7" r="3.5" fill="#05b734" fill-opacity="0.82" stroke="#000" stroke-opacity="0.8" stroke-width="1.25"/>
<circle cx="374.4" cy="751.9" r="3.5" fill="#05b734" fill-opacity="0.82" stroke="#000" stroke-opacity="0.8" stroke-width="1.25"/>
<circle cx="371.0" cy="777.2" r="3.5" fill="#05b734" fill-opacity="0.82" stroke="#000" stroke-opacity="0.8" stroke-width="1.25"/>
<circle cx="363.3" cy="810.2" r="3.5" fill="#05b734" fill-opacity="0.82" stroke="#000" stroke-opacity="0.8" stroke-width="1.25"/>
<circle cx="401.8" cy="687.6" r="3.5" fill="#f8766d" fill-opacity="0.82" stroke="#000" stroke-opacity="0.8" stroke-width="1.25"/>
<circle cx="401.4" cy="684.3" r="3.5" fill="#f8766d" fill-opacity="0.82" stroke="#000" stroke-opacity="0.8" stroke-width="1.25"/>
<circle cx="412.0" cy="684.3" r="3.5" fill="#f8766d" fill-opacity="0.82" stroke="#000" stroke-opacity="0.8" stroke-width="1.25"/>
<circle cx="410.9" cy="695.7" r="3.5" fill="#f8766d" fill-opacity="0.82" stroke="#000" stroke-opacity="0.8" stroke-width="1.25"/>
<circle cx="409.5" cy="691.6" r="3.5" fill="#f8766d" fill-opacity="0.82" stroke="#000" stroke-opacity="0.8" stroke-width="1.25"/>
<circle cx="406.9" cy="675.9" r="3.5" fill="#f8766d" fill-opacity="0.82" stroke="#000" stroke-opacity="0.8" stroke-width="1.25"/>
<circle cx="406.2" cy="703.3" r="3.5" fill="#f8766d" fill-opacity="0.82" stroke="#000" stroke-opacity="0.8" stroke-width="1.25"/>
<circle cx="409.8" cy="711.4" r="3.5" fill="#f8766d" fill-opacity="0.82" stroke="#000" stroke-opacity="0.8" stroke-width="1.25"/>
<circle cx="401.9" cy="740.8" r="3.5" fill="#f8766d" fill-opacity="0.82" stroke="#000" stroke-opacity="0.8" stroke-width="1.25"/>
<circle cx="403.6" cy="738.1" r="3.5" fill="#f8766d" fill-opacity="0.82" stroke="#000" stroke-opacity="0.8" stroke-width="1.25"/>
<circle cx="410.8" cy="818.4" r="3.5" fill="#f8766d" fill-opacity="0.82" stroke="#000" stroke-opacity="0.8" stroke-width="1.25"/>
<rect x="119.0" y="626.6" width="99.3" height="88.2" fill="#ff0000" fill-opacity="0.1"/>
<path d="M119.0,714.4 L131.3,714.4 M143.3,714.4 L155.6,714.4 M167.6,714.4 L179.9,714.4 M191.9,714.4 L204.2,714.4 M216.2,714.4 L218.3,714.4" stroke="#000" stroke-width="3.05" fill="none"/>
<rect x="225.1" y="626.6" width="98.9" height="88.2" fill="#ff0000" fill-opacity="0.1"/>
<path d="M225.1,714.4 L237.4,714.4 M249.4,714.4 L261.7,714.4 M273.7,714.4 L286.0,714.4 M298.0,714.4 L310.3,714.4 M322.3,714.4 L324.0,714.4" stroke="#000" stroke-width="3.05" fill="none"/>
<rect x="331.1" y="626.6" width="98.9" height="88.2" fill="#ff0000" fill-opacity="0.1"/>
<path d="M331.1,714.4 L343.4,714.4 M355.4,714.4 L367.7,714.4 M379.7,714.4 L392.0,714.4 M404.0,714.4 L416.3,714.4 M428.3,714.4 L430.0,714.4" stroke="#000" stroke-width="3.05" fill="none"/>
<path d="M119.4,617 L119.4,841.5" stroke="#000" stroke-width="3.05"/>
<path d="M117.9,840 L218.3,840" stroke="#000" stroke-width="3.05"/>
<text x="169.2" y="609.4" text-anchor="middle" style="font-size:11.1px;fill:#1a1a1a">0.1*Cmax</text>
<text x="176.4" y="650.4" text-anchor="middle" style="font-size:14px">p = 0.167</text>
<path d="M157.5,664 L157.5,658 L195.4,658 L195.4,664" stroke="#000" stroke-width="1.6" fill="none"/>
<path d="M157.5,841.5 L157.5,844" stroke="#333" stroke-width="1.3"/>
<text transform="translate(164.1,853.8) rotate(-45)" text-anchor="end" style="font-size:14px">Less</text>
<path d="M195.4,841.5 L195.4,844" stroke="#333" stroke-width="1.3"/>
<text transform="translate(202.0,853.8) rotate(-45)" text-anchor="end" style="font-size:14px">Most</text>
<path d="M225.1,840 L324.0,840" stroke="#000" stroke-width="3.05"/>
<text x="275.1" y="609.4" text-anchor="middle" style="font-size:11.1px;fill:#1a1a1a">Cmax</text>
<text x="282.0" y="650.4" text-anchor="middle" style="font-size:14px">p = 0.837</text>
<path d="M263.1,664 L263.1,658 L300.8,658 L300.8,664" stroke="#000" stroke-width="1.6" fill="none"/>
<path d="M263.1,841.5 L263.1,844" stroke="#333" stroke-width="1.3"/>
<text transform="translate(269.7,853.8) rotate(-45)" text-anchor="end" style="font-size:14px">Less</text>
<path d="M300.8,841.5 L300.8,844" stroke="#333" stroke-width="1.3"/>
<text transform="translate(307.4,853.8) rotate(-45)" text-anchor="end" style="font-size:14px">Most</text>
<path d="M331.1,840 L430.0,840" stroke="#000" stroke-width="3.05"/>
<text x="381.1" y="609.4" text-anchor="middle" style="font-size:11.1px;fill:#1a1a1a">10*Cmax</text>
<text x="388.2" y="650.4" text-anchor="middle" style="font-size:14px">p = 0.12</text>
<path d="M369.1,664 L369.1,658 L407.3,658 L407.3,664" stroke="#000" stroke-width="1.6" fill="none"/>
<path d="M369.1,841.5 L369.1,844" stroke="#333" stroke-width="1.3"/>
<text transform="translate(375.7,853.8) rotate(-45)" text-anchor="end" style="font-size:14px">Less</text>
<path d="M407.3,841.5 L407.3,844" stroke="#333" stroke-width="1.3"/>
<text transform="translate(413.9,853.8) rotate(-45)" text-anchor="end" style="font-size:14px">Most</text>
<path d="M115.5,830.1 L117.9,830.1" stroke="#333" stroke-width="1.3"/>
<text x="112.5" y="835.3" text-anchor="end" style="font-size:13.8px">0.00</text>
<path d="M115.5,779.3 L117.9,779.3" stroke="#333" stroke-width="1.3"/>
<text x="112.5" y="784.5" text-anchor="end" style="font-size:13.8px">0.25</text>
<path d="M115.5,728.5 L117.9,728.5" stroke="#333" stroke-width="1.3"/>
<text x="112.5" y="733.7" text-anchor="end" style="font-size:13.8px">0.50</text>
<path d="M115.5,677.7 L117.9,677.7" stroke="#333" stroke-width="1.3"/>
<text x="112.5" y="682.9" text-anchor="end" style="font-size:13.8px">0.75</text>
<path d="M115.5,626.9 L117.9,626.9" stroke="#333" stroke-width="1.3"/>
<text x="112.5" y="632.1" text-anchor="end" style="font-size:13.8px">1.00</text>
<text transform="translate(44.0,728.9) rotate(-90)" text-anchor="middle" style="font-size:14.1px">DILI score</text>
<text x="274.8" y="889.6" text-anchor="middle" style="font-size:14px">DILI concern</text>
<path d="M519.5,777.2 L531.8,777.2 M543.9,777.2 L556.2,777.2 M568.3,777.2 L580.6,777.2 M592.7,777.2 L605.0,777.2 M617.1,777.2 L629.4,777.2 M641.5,777.2 L653.8,777.2 M665.9,777.2 L675.2,777.2" stroke="#000" stroke-width="3.1" fill="none"/>
<path d="M548.9,747.1 L548.9,762.6 M548.9,789.2 L548.9,821.7" stroke="#333" stroke-width="3.1"/>
<path d="M546.0,747.3 L551.8,747.3 M546.0,821.5 L551.8,821.5" stroke="#333" stroke-width="2.6"/>
<rect x="536.5" y="762.6" width="24.7" height="26.6" fill="#fff" stroke="#333" stroke-width="3.15"/>
<path d="M536.5,774.9 L561.2,774.9" stroke="#333" stroke-width="5.5"/>
<path d="M597.5,688.8 L597.5,742.4 M597.5,799.8 L597.5,815.5" stroke="#333" stroke-width="3.1"/>
<path d="M594.6,689.0 L600.4,689.0 M594.6,815.3 L600.4,815.3" stroke="#333" stroke-width="2.6"/>
<rect x="585.1" y="742.4" width="24.7" height="57.4" fill="#fff" stroke="#333" stroke-width="3.15"/>
<path d="M585.1,769.8 L609.9,769.8" stroke="#333" stroke-width="5.5"/>
<path d="M646.2,633.7 L646.2,704.5 M646.2,784.5 L646.2,794.3" stroke="#333" stroke-width="3.1"/>
<path d="M643.3,633.9 L649.1,633.9 M643.3,794.1 L649.1,794.1" stroke="#333" stroke-width="2.6"/>
<rect x="633.9" y="704.5" width="24.7" height="80.0" fill="#fff" stroke="#333" stroke-width="3.15"/>
<path d="M633.9,732.1 L658.6,732.1" stroke="#333" stroke-width="5.5"/>
<circle cx="556.6" cy="748.2" r="3.6" fill="#fff" stroke="#000" stroke-width="1.35"/>
<circle cx="545.7" cy="761.3" r="3.6" fill="#fff" stroke="#000" stroke-width="1.35"/>
<circle cx="549.9" cy="763.6" r="3.6" fill="#fff" stroke="#000" stroke-width="1.35"/>
<circle cx="540.6" cy="774.8" r="3.6" fill="#fff" stroke="#000" stroke-width="1.35"/>
<circle cx="555.5" cy="774.0" r="3.6" fill="#fff" stroke="#000" stroke-width="1.35"/>
<circle cx="542.0" cy="785.7" r="3.6" fill="#fff" stroke="#000" stroke-width="1.35"/>
<circle cx="551.8" cy="789.9" r="3.6" fill="#fff" stroke="#000" stroke-width="1.35"/>
<circle cx="554.9" cy="820.5" r="3.6" fill="#fff" stroke="#000" stroke-width="1.35"/>
<circle cx="541.7" cy="830.4" r="3.6" fill="#fff" stroke="#000" stroke-width="1.35"/>
<circle cx="602.6" cy="689.5" r="3.6" fill="#fff" stroke="#000" stroke-width="1.35"/>
<circle cx="600.2" cy="741.8" r="3.6" fill="#fff" stroke="#000" stroke-width="1.35"/>
<circle cx="591.5" cy="767.2" r="3.6" fill="#fff" stroke="#000" stroke-width="1.35"/>
<circle cx="604.4" cy="770.1" r="3.6" fill="#fff" stroke="#000" stroke-width="1.35"/>
<circle cx="595.5" cy="777.8" r="3.6" fill="#fff" stroke="#000" stroke-width="1.35"/>
<circle cx="602.1" cy="800.2" r="3.6" fill="#fff" stroke="#000" stroke-width="1.35"/>
<circle cx="596.9" cy="806.1" r="3.6" fill="#fff" stroke="#000" stroke-width="1.35"/>
<circle cx="592.7" cy="815.5" r="3.6" fill="#fff" stroke="#000" stroke-width="1.35"/>
<circle cx="651.8" cy="634.1" r="3.6" fill="#fff" stroke="#000" stroke-width="1.35"/>
<circle cx="653.9" cy="671.8" r="3.6" fill="#fff" stroke="#000" stroke-width="1.35"/>
<circle cx="639.1" cy="704.3" r="3.6" fill="#fff" stroke="#000" stroke-width="1.35"/>
<circle cx="639.1" cy="732.4" r="3.6" fill="#fff" stroke="#000" stroke-width="1.35"/>
<circle cx="652.7" cy="730.7" r="3.6" fill="#fff" stroke="#000" stroke-width="1.35"/>
<circle cx="639.1" cy="737.8" r="3.6" fill="#fff" stroke="#000" stroke-width="1.35"/>
<circle cx="652.3" cy="784.9" r="3.6" fill="#fff" stroke="#000" stroke-width="1.35"/>
<circle cx="648.5" cy="787.3" r="3.6" fill="#fff" stroke="#000" stroke-width="1.35"/>
<circle cx="650.9" cy="794.3" r="3.6" fill="#fff" stroke="#000" stroke-width="1.35"/>
<path d="M520.1,616.5 L520.1,841.7" stroke="#000" stroke-width="3.05"/>
<path d="M518.6,840.2 L675.2,840.2" stroke="#000" stroke-width="3.05"/>
<path d="M516.3,662.0 L518.6,662.0" stroke="#333" stroke-width="1.3"/>
<text x="513.2" y="667.2" text-anchor="end" style="font-size:13.8px">0.50</text>
<path d="M516.3,719.6 L518.6,719.6" stroke="#333" stroke-width="1.3"/>
<text x="513.2" y="724.8" text-anchor="end" style="font-size:13.8px">0.25</text>
<path d="M516.3,777.2 L518.6,777.2" stroke="#333" stroke-width="1.3"/>
<text x="513.2" y="782.4" text-anchor="end" style="font-size:13.8px">0.00</text>
<path d="M516.3,834.8 L518.6,834.8" stroke="#333" stroke-width="1.3"/>
<text x="513.2" y="840.0" text-anchor="end" style="font-size:13.8px">−0.25</text>
<path d="M549.0,841.7 L549.0,844" stroke="#333" stroke-width="1.3"/>
<text transform="translate(555.6,853.8) rotate(-45)" text-anchor="end" style="font-size:14px">0.1</text>
<path d="M597.5,841.7 L597.5,844" stroke="#333" stroke-width="1.3"/>
<text transform="translate(604.1,853.8) rotate(-45)" text-anchor="end" style="font-size:14px">1</text>
<path d="M646.3,841.7 L646.3,844" stroke="#333" stroke-width="1.3"/>
<text transform="translate(652.9,853.8) rotate(-45)" text-anchor="end" style="font-size:14px">10</text>
<text x="523.2" y="644.4" style="font-size:14px">p = 0.549</text>
<text x="568" y="671.2" style="font-size:14px">p = 0.481</text>
<text x="617.4" y="619" style="font-size:14px">p = 0.033</text>
<text transform="translate(473.4,728.5) rotate(-90)" text-anchor="middle" style="font-size:14px">ΔDILI score</text>
<text x="597.2" y="890.4" text-anchor="middle" style="font-size:14px">Dose:Cmax ratio</text>
</svg></body></html>
